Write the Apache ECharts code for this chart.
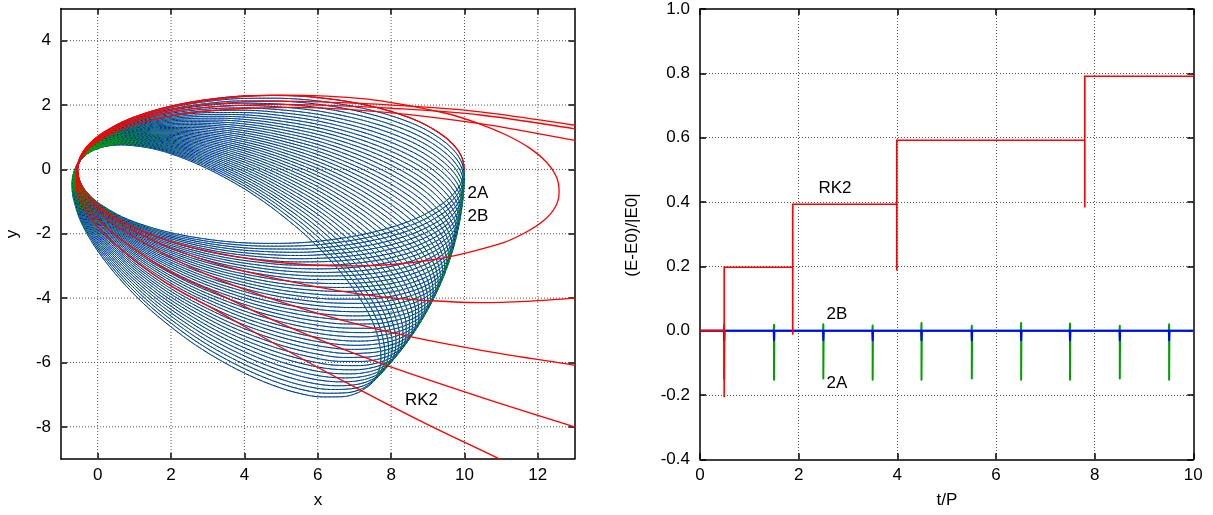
<!DOCTYPE html>
<html><head><meta charset="utf-8">
<script src="https://cdn.jsdelivr.net/npm/echarts@6/dist/echarts.min.js"></script>
<style>html,body{margin:0;padding:0;background:#fff}#c{width:1213px;height:515px}</style>
</head><body><div id="c"></div>
<script>
// ================= LEFT PANEL : orbits (x, y) =================
const xRangeL = [-1, 13];
const yRangeL = [-9, 5];
const xTicksL = [0, 2, 4, 6, 8, 10, 12];
const yTicksL = [-8, -6, -4, -2, 0, 2, 4];

// first 2A/2B orbit (apoapsis at (10,0), counter-clockwise)
const baseOrbit = [
  [10,0],[9.92,0.40],[9.68,0.79],[9.29,1.15],[8.77,1.48],[8.12,1.76],[7.36,1.99],[6.53,2.16],
  [5.64,2.27],[4.73,2.30],[3.81,2.27],[2.92,2.16],[2.09,1.99],[1.33,1.76],[0.68,1.48],[0.16,1.15],
  [-0.06,0.97],[-0.23,0.79],[-0.37,0.60],[-0.47,0.40],[-0.53,0.20],[-0.55,0],
  [-0.53,-0.20],[-0.47,-0.40],[-0.37,-0.60],[-0.23,-0.79],[-0.06,-0.97],[0.16,-1.15],[0.68,-1.48],
  [1.33,-1.76],[2.09,-1.99],[2.92,-2.16],[3.81,-2.27],[4.73,-2.30],[5.64,-2.27],[6.53,-2.16],
  [7.36,-1.99],[8.12,-1.76],[8.77,-1.48],[9.29,-1.15],[9.68,-0.79],[9.92,-0.40],[10,0]
];
// orientation of the apoapsis of each successive orbit (degrees), read along the right edge
const apoAngle2A = [0,-1.05,-2.1,-3.15,-4.2,-5.25,-6.3,-7.35,-8.4,-9.45,-10.5,-11.55,-12.6,-13.65,
  -14.7,-15.75,-16.8,-17.85,-18.9,-19.95,-21,-22.05,-23.1,-24.15,-25.2,-26.25,-27.3,-28.35,-29.4,
  -30.45,-31.5,-32.55,-33.6,-34.65,-35.7,-36.75,-37.8,-38.85,-39.9,-40.95,-42];
const apoAngle2B = [0,-1.05,-2.1,-3.15,-4.2,-5.25,-6.3,-7.35,-8.4,-9.45,-10.5,-11.55,-12.6,-13.65,
  -14.7,-15.75,-16.8,-17.85,-18.9,-19.95,-21,-22.05,-23.1,-24.15,-25.2,-26.25,-27.3,-28.35,-29.4,
  -30.45,-31.5,-32.55,-33.6,-34.65,-35.7,-36.75,-37.8,-38.85,-39.9,-40.95,-42];

// RK2 trajectory, arc by arc
const rk2Start = baseOrbit.slice(0, 22);
const rk2Orbit1 = [[-0.55,0.03],[-0.48,-0.43],[-0.2,-0.89],[0.26,-1.34],[1.27,-1.94],[2.61,-2.44],
  [4.74,-2.87],[7.03,-3.0],[9.19,-2.80],[10.98,-2.31],[11.65,-1.97],[12.16,-1.59],[12.48,-1.16],
  [12.58,-0.70],[12.51,-0.24],[12.24,0.22],[11.78,0.66],[11.14,1.07],[10.35,1.44],[9.43,1.76],
  [7.30,2.19],[5.02,2.31],[2.86,2.12],[1.08,1.63],[0.13,1.10],[-0.29,0.69],[-0.465,0.39],[-0.55,0.03]];
const rk2Out2 = [[-0.55,0.03],[-0.47,-0.45],[-0.2,-0.93],[0.28,-1.42],[1.0,-1.92],[2.0,-2.45],
  [3.34,-2.97],[4.97,-3.42],[6.5,-3.76],[7.8,-3.97],[8.8,-4.06],[10.4,-4.14],[11.7,-4.1],[13,-4.0],[13.6,-3.94]];
const rk2In2 = [[13.6,0.76],[12.97,0.91],[11.34,1.25],[10.43,1.42],[8.5,1.7],[7.0,1.85],[5.5,1.93],
  [4.1,1.9],[2.27,1.72],[0.82,1.32],[-0.14,0.76],[-0.47,0.31],[-0.56,0.04]];
const rk2Out3 = [[-0.56,0.04],[-0.5,-0.5],[-0.25,-1.0],[0.25,-1.55],[1.0,-2.1],[2.1,-2.8],[3.34,-3.44],
  [4.97,-4.11],[6.7,-4.7],[8.52,-5.2],[10.5,-5.63],[12.97,-6.08],[13.6,-6.19]];
const rk2In3 = [[13.6,1.17],[12.97,1.27],[10.43,1.69],[8,1.9],[6,2.0],[5,2.02],[4,2.0],[2.5,1.87],
  [1.2,1.56],[0.2,1.06],[-0.35,0.55],[-0.57,0.1]];
const rk2Out4 = [[-0.57,0.1],[-0.55,-0.5],[-0.33,-1.08],[0.15,-1.72],[0.9,-2.4],[2.0,-3.2],[3.34,-3.9],
  [4.97,-4.78],[6.5,-5.5],[7.97,-6.13],[10.5,-7.1],[12.97,-7.99],[13.6,-8.2]];
const rk2In4 = [[13.6,1.28],[12.97,1.38],[10.43,1.79],[8,2.0],[6,2.1],[5,2.12],[4,2.1],[2.5,1.95],
  [1.2,1.62],[0.2,1.1],[-0.35,0.58],[-0.58,0.1]];
const rk2Out5 = [[-0.58,0.1],[-0.58,-0.55],[-0.4,-1.15],[0.05,-1.85],[0.75,-2.6],[1.9,-3.55],[3.34,-4.45],
  [4.97,-5.51],[7.15,-6.85],[9.0,-7.93],[10.92,-8.98],[11.3,-9.2]];

// ================= RIGHT PANEL : energy error =================
const tTicks = [0, 2, 4, 6, 8, 10];
const eTicks = [-0.4, -0.2, 0, 0.2, 0.4, 0.6, 0.8, 1.0];
const rk2KickT   = [0.49, 1.88, 3.99, 7.80];
const rk2Before  = [0, 0.197, 0.393, 0.592];
const rk2Dip     = [-0.207, -0.013, 0.187, 0.383];
const rk2After   = [0.197, 0.393, 0.592, 0.791];
const periT      = [0.49, 1.50, 2.50, 3.50, 4.49, 5.51, 6.51, 7.50, 8.51, 9.51];
const err2AMin   = [-0.150, -0.153, -0.149, -0.153, -0.153, -0.149, -0.153, -0.153, -0.149, -0.153];
const err2AMax   = [0.018, 0.018, 0.020, 0.016, 0.024, 0.015, 0.024, 0.022, 0.015, 0.020];
const err2BMin   = [-0.030, -0.030, -0.030, -0.030, -0.030, -0.030, -0.030, -0.030, -0.030, -0.030];
const err2BMax   = [0.005, 0.005, 0.005, 0.005, 0.005, 0.005, 0.005, 0.005, 0.005, 0.005];

// ---------- helpers ----------
function rotate(pts, deg) {
  const a = deg * Math.PI / 180, c = Math.cos(a), s = Math.sin(a);
  return pts.map(p => [p[0] * c - p[1] * s, p[0] * s + p[1] * c]);
}
function chainOrbits(angles) {
  let out = [];
  angles.forEach(d => { out = out.concat(rotate(baseOrbit, d)); });
  return out;
}
function spikes(times, mins, maxs, t0, t1) {
  const d = [[t0, 0]];
  times.forEach((t, i) => { d.push([t - 0.006, 0], [t, maxs[i]], [t, mins[i]], [t + 0.006, 0]); });
  d.push([t1, 0]);
  return d;
}
function rk2Steps() {
  const d = [[0, 0]];
  rk2KickT.forEach((t, i) => { d.push([t, rk2Before[i]], [t, rk2Dip[i]], [t, rk2After[i]]); });
  d.push([10, rk2After[rk2After.length - 1]]);
  return d;
}

const FONT = '"Liberation Sans", Arial, Helvetica, sans-serif';
const FS = 17;
const gridStyle = { color: '#555', width: 1, type: [1, 2] };
const borderStyle = { color: '#000', width: 1.5 };

const series = [];
xTicksL.forEach(v => series.push({ type: 'line', xAxisIndex: 0, yAxisIndex: 0, data: [[v, yRangeL[0]], [v, yRangeL[1]]],
  showSymbol: false, silent: true, lineStyle: gridStyle }));
yTicksL.forEach(v => series.push({ type: 'line', xAxisIndex: 0, yAxisIndex: 0, data: [[xRangeL[0], v], [xRangeL[1], v]],
  showSymbol: false, silent: true, lineStyle: gridStyle }));
series.push({ name: '2B', type: 'line', xAxisIndex: 0, yAxisIndex: 0, data: chainOrbits(apoAngle2B), smooth: 0.35,
  showSymbol: false, silent: true, lineStyle: { color: '#0000ff', width: 1 } });
series.push({ name: '2A', type: 'line', xAxisIndex: 0, yAxisIndex: 0, data: chainOrbits(apoAngle2A), smooth: 0.35,
  showSymbol: false, silent: true, lineStyle: { color: '#00a000', width: 1, type: [2, 2] } });
[rk2Start, rk2Orbit1, rk2Out2, rk2In2, rk2Out3, rk2In3, rk2Out4, rk2In4, rk2Out5].forEach(arc => series.push({
  name: 'RK2', type: 'line', xAxisIndex: 0, yAxisIndex: 0, data: arc, smooth: 0.35, showSymbol: false, silent: true,
  lineStyle: { color: '#ff0000', width: 1.3 } }));
series.push({ name: '2A', type: 'line', xAxisIndex: 2, yAxisIndex: 2, data: spikes(periT, err2AMin, err2AMax, 0, 10),
  showSymbol: false, silent: true, lineStyle: { color: '#00a000', width: 2, join: 'round' } });
series.push({ name: '2B', type: 'line', xAxisIndex: 2, yAxisIndex: 2, data: spikes(periT, err2BMin, err2BMax, 0, 10),
  showSymbol: false, silent: true, lineStyle: { color: '#0000ff', width: 2, join: 'round' } });
series.push({ name: 'RK2', type: 'line', xAxisIndex: 2, yAxisIndex: 2, data: rk2Steps(),
  showSymbol: false, silent: true, lineStyle: { color: '#ff0000', width: 1.6, join: 'miter' } });

function mkAxis(base, extra) { return Object.assign({ type: 'value', splitLine: { show: false }, axisLine: { show: true, onZero: false, lineStyle: borderStyle } }, base, extra); }
const labelStyle = { color: '#000', fontSize: FS, fontFamily: FONT };

const xAxis = [
  mkAxis({ gridIndex: 0, min: xRangeL[0], max: xRangeL[1], position: 'bottom' }, {
    axisTick: { show: true, inside: true, length: 6, customValues: xTicksL, lineStyle: borderStyle },
    axisLabel: Object.assign({ customValues: xTicksL, margin: 8 }, labelStyle) }),
  mkAxis({ gridIndex: 0, min: xRangeL[0], max: xRangeL[1], position: 'top' }, {
    axisTick: { show: true, inside: true, length: 6, customValues: xTicksL, lineStyle: borderStyle },
    axisLabel: { show: false } }),
  mkAxis({ gridIndex: 1, min: 0, max: 10, interval: 2, position: 'bottom' }, {
    axisTick: { show: true, inside: true, length: 6, lineStyle: borderStyle },
    splitLine: { show: true, showMinLine: false, showMaxLine: false, lineStyle: gridStyle },
    axisLabel: Object.assign({ margin: 8 }, labelStyle) }),
  mkAxis({ gridIndex: 1, min: 0, max: 10, interval: 2, position: 'top' }, {
    axisTick: { show: true, inside: true, length: 6, lineStyle: borderStyle }, axisLabel: { show: false } })
];
const yAxis = [
  mkAxis({ gridIndex: 0, min: yRangeL[0], max: yRangeL[1], position: 'left' }, {
    axisTick: { show: true, inside: true, length: 6, customValues: yTicksL, lineStyle: borderStyle },
    axisLabel: Object.assign({ customValues: yTicksL, margin: 10 }, labelStyle) }),
  mkAxis({ gridIndex: 0, min: yRangeL[0], max: yRangeL[1], position: 'right' }, {
    axisTick: { show: true, inside: true, length: 6, customValues: yTicksL, lineStyle: borderStyle },
    axisLabel: { show: false } }),
  mkAxis({ gridIndex: 1, min: -0.4, max: 1.0, interval: 0.2, position: 'left' }, {
    axisTick: { show: true, inside: true, length: 6, lineStyle: borderStyle },
    splitLine: { show: true, showMinLine: false, showMaxLine: false, lineStyle: gridStyle },
    axisLabel: Object.assign({ margin: 10, formatter: v => (Math.abs(v) < 1e-9 ? 0 : v).toFixed(1) }, labelStyle) }),
  mkAxis({ gridIndex: 1, min: -0.4, max: 1.0, interval: 0.2, position: 'right' }, {
    axisTick: { show: true, inside: true, length: 6, lineStyle: borderStyle }, axisLabel: { show: false } })
];

function txt(s, x, y, rot) {
  return { type: 'text', x: x, y: y, rotation: rot || 0, silent: true, z: 100,
    style: { text: s, font: FS + 'px ' + FONT, fill: '#000', align: 'center', verticalAlign: 'middle',
             textAlign: 'center', textVerticalAlign: 'middle' } };
}

const chart = echarts.init(document.getElementById('c'), null, { renderer: 'canvas' });
chart.setOption({
  animation: false,
  backgroundColor: '#fff',
  grid: [
    { left: 61, top: 8.5, width: 513.5, height: 450.5, containLabel: false },
    { left: 700, top: 9, width: 493.3, height: 450.3, containLabel: false }
  ],
  xAxis: xAxis,
  yAxis: yAxis,
  series: series,
  graphic: [
    txt('2A', 478, 193.5), txt('2B', 478, 216.5), txt('RK2', 421.5, 400),
    txt('RK2', 835, 188), txt('2B', 837, 314.5), txt('2A', 837, 383.5),
    txt('x', 318, 500), txt('t/P', 947, 500),
    txt('y', 12, 234, Math.PI / 2), txt('(E-E0)/|E0|', 632, 235, Math.PI / 2)
  ]
});
</script></body></html>
